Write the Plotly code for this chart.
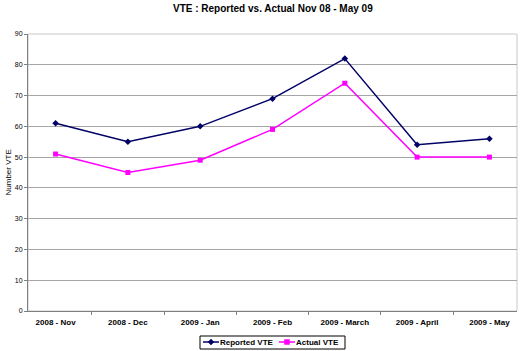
import plotly.graph_objects as go

months = ["2008 - Nov", "2008 - Dec", "2009 - Jan", "2009 - Feb", "2009 - March", "2009 - April", "2009 - May"]
reported = [61, 55, 60, 69, 82, 54, 56]
actual = [51, 45, 49, 59, 74, 50, 50]
series_names = ["Reported VTE", "Actual VTE"]
series_colors = ["#000066", "#FF00FF"]

W, H = 520, 351
ML, MR, MT, MB = 28, 3, 34, 40
PW, PH = W - ML - MR, H - MT - MB


def px(x):
    return (x - ML) / PW


def py(y):
    return (H - MB - y) / PH


fig = go.Figure()
fig.add_trace(go.Scatter(x=months, y=reported, name=series_names[0], mode="lines+markers",
                         line=dict(color=series_colors[0], width=1.5),
                         marker=dict(symbol="diamond", size=5, color=series_colors[0])))
fig.add_trace(go.Scatter(x=months, y=actual, name=series_names[1], mode="lines+markers",
                         line=dict(color=series_colors[1], width=1.5),
                         marker=dict(symbol="square", size=5, color=series_colors[1])))

# manual compact legend (Excel style)
ly = 342
shapes = [
    dict(type="rect", xref="paper", yref="paper", x0=0, y0=0, x1=1, y1=1,
         line=dict(color="#C8C8C8", width=1), layer="below"),
    dict(type="rect", xref="paper", yref="paper", x0=px(200), x1=px(345), y0=py(336), y1=py(349),
         line=dict(color="black", width=1), fillcolor="white"),
    dict(type="line", xref="paper", yref="paper", x0=px(203), x1=px(219), y0=py(ly), y1=py(ly),
         line=dict(color=series_colors[0], width=1.5)),
    dict(type="path", xref="paper", yref="paper",
         path="M %f %f L %f %f L %f %f L %f %f Z" % (px(211), py(ly - 3), px(214), py(ly),
                                                     px(211), py(ly + 3), px(208), py(ly)),
         fillcolor=series_colors[0], line=dict(color=series_colors[0], width=0.5)),
    dict(type="line", xref="paper", yref="paper", x0=px(279), x1=px(295), y0=py(ly), y1=py(ly),
         line=dict(color=series_colors[1], width=1.5)),
    dict(type="rect", xref="paper", yref="paper", x0=px(284.5), x1=px(289.5), y0=py(ly + 2.5), y1=py(ly - 2.5),
         fillcolor=series_colors[1], line=dict(color=series_colors[1], width=0.5)),
]

fig.update_layout(
    width=W, height=H,
    margin=dict(l=ML, r=MR, t=MT, b=MB, autoexpand=False),
    paper_bgcolor="white", plot_bgcolor="white",
    font=dict(family="Liberation Sans, Arial, sans-serif", size=8, color="black"),
    showlegend=False,
    shapes=shapes,
    annotations=[
        dict(text="<b>VTE : Reported vs. Actual Nov 08 - May 09</b>", xref="paper", yref="paper",
             x=0.5, y=py(8), xanchor="center", yanchor="middle", showarrow=False,
             font=dict(size=10)),
        dict(text="Number VTE", xref="paper", yref="paper", x=px(8), y=0.5,
             xanchor="center", yanchor="middle", textangle=-90, showarrow=False,
             font=dict(size=8)),
        dict(text="<b>%s</b>" % series_names[0], xref="paper", yref="paper", x=px(218), y=py(ly),
             xanchor="left", yanchor="middle", showarrow=False, font=dict(size=8)),
        dict(text="<b>%s</b>" % series_names[1], xref="paper", yref="paper", x=px(294), y=py(ly),
             xanchor="left", yanchor="middle", showarrow=False, font=dict(size=8)),
    ],
)
fig.update_xaxes(type="category", showgrid=False, showline=True, linecolor="#808080", linewidth=1,
                 ticks="outside", tickson="boundaries", ticklen=3, tickcolor="#808080",
                 tickfont=dict(size=8), automargin=False, ticklabelstandoff=3,
                 tickvals=months, ticktext=["<b>%s</b>" % m for m in months])
fig.update_yaxes(range=[0, 90], dtick=10, showgrid=True, gridcolor="#A6A6A6", gridwidth=1,
                 showline=True, linecolor="#808080", linewidth=1, ticks="outside", ticklen=3,
                 tickcolor="#808080", zeroline=False, tickfont=dict(size=7), automargin=False)

fig.write_html("out.html", config={"displayModeBar": False},
               post_script="document.body.style.margin='0';document.body.style.overflow='hidden';")
